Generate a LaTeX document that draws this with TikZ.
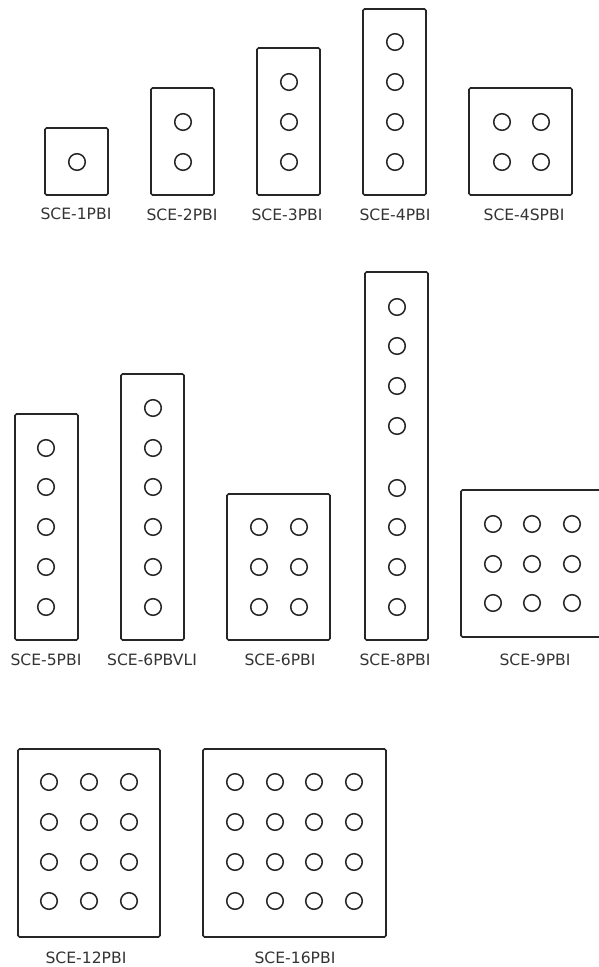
\documentclass[tikz,border=0pt]{standalone}
\usepackage{fontspec}
\setmainfont{DejaVu Sans}
\tikzset{
  panel/.style={draw=black!85,line width=1.7pt,rounded corners=1.5pt},
  hole/.style={draw=black!85,line width=1.5pt},
  tag/.style={font=\fontsize{15.6}{18}\selectfont,text=black!80,inner sep=0pt,anchor=center}
}
\newcommand{\holes}[2]{\foreach \hx in {#1}{\foreach \hy in {#2}{\draw[hole] (\hx,\hy) circle (8.3);}}}
\begin{document}
\begin{tikzpicture}[x=1pt,y=-1pt]
\useasboundingbox (0,0) rectangle (599,967);
\begin{scope}
\clip (0,0) rectangle (599,967);
% row 1
\draw[panel] (45,128) rectangle (108,195);
\holes{77}{162}
\node[tag] (t1) at (76,214) {SCE-1PBI};
\draw[panel] (151,88) rectangle (214,195);
\holes{183}{122,162}
\node[tag] (t2) at (182,215) {SCE-2PBI};
\draw[panel] (257,48) rectangle (320,195);
\holes{289}{82,122,162}
\node[tag] (t3) at (287,215) {SCE-3PBI};
\draw[panel] (363,9) rectangle (426,195);
\holes{395}{42,82,122,162}
\node[tag] (t4) at (395,215) {SCE-4PBI};
\draw[panel] (469,88) rectangle (572,195);
\holes{502,541}{122,162}
\node[tag] (t4s) at (524,215) {SCE-4SPBI};
% row 2
\draw[panel] (15,414) rectangle (78,640);
\holes{46}{448,487,527,567,607}
\node[tag] (t5) at (46,660) {SCE-5PBI};
\draw[panel] (121,374) rectangle (184,640);
\holes{153}{408,448,487,527,567,607}
\node[tag] (t6v) at (152,660) {SCE-6PBVLI};
\draw[panel] (227,494) rectangle (330,640);
\holes{259,299}{527,567,607}
\node[tag] (t6) at (280,660) {SCE-6PBI};
\draw[panel] (365,272) rectangle (428,640);
\holes{397}{307,346,386,426,488,527,567,607}
\node[tag] (t8) at (395,660) {SCE-8PBI};
\draw[panel] (461,490) rectangle (610,637);
\holes{493,532,572}{524,564,603}
\node[tag] (t9) at (535,660) {SCE-9PBI};
% row 3
\draw[panel] (18,749) rectangle (160,937);
\holes{49,89,129}{782,822,862,901}
\node[tag] (t12) at (86,958) {SCE-12PBI};
\draw[panel] (203,749) rectangle (386,937);
\holes{235,275,314,354}{782,822,862,901}
\node[tag] (t16) at (295,958) {SCE-16PBI};
\end{scope}
\end{tikzpicture}
\end{document}
